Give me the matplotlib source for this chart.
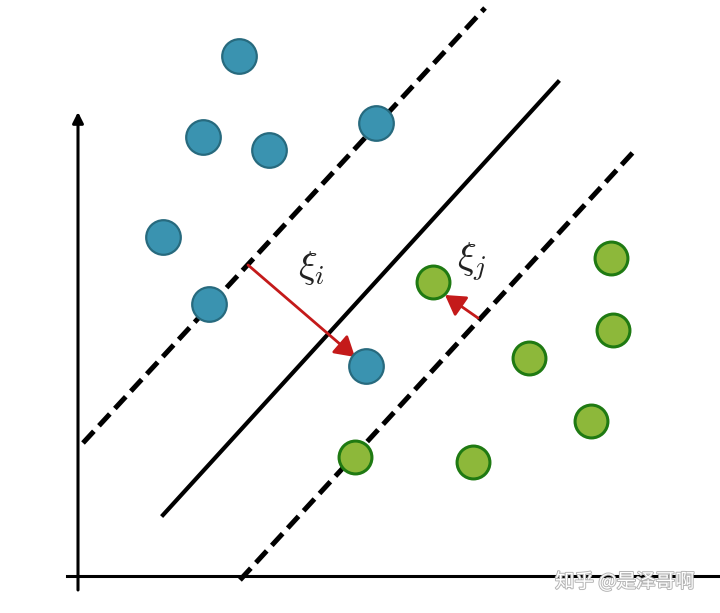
import matplotlib
matplotlib.use("Agg")
import matplotlib.pyplot as plt
import matplotlib.patheffects as pe

plt.rcParams["mathtext.fontset"] = "cm"

# Data (image-like coordinates, y grows downward)
blue_x = [239, 203, 269, 376, 163, 209, 366]
blue_y = [56, 137, 150, 123, 237, 304, 366]
green_x = [433, 611, 613, 529, 591, 355, 473]
green_y = [282, 258, 330, 358, 421, 457, 462]

upper_margin_x = [83, 485]
upper_margin_y = [443, 8]
hyperplane_x = [163, 558]
hyperplane_y = [515, 82]
lower_margin_x = [240, 637]
lower_margin_y = [580, 148]

xi_i_start = (248, 265)
xi_i_end = (355, 357)
xi_j_start = (478, 318)
xi_j_end = (445, 295)

fig = plt.figure(figsize=(7.2, 6.13), dpi=100)
ax = fig.add_axes([0, 0, 1, 1])
ax.set_xlim(0, 720)
ax.set_ylim(613, 0)
ax.axis("off")

# coordinate axes
ax.plot([67, 720], [576, 576], color="black", lw=2.2, zorder=1)
ax.annotate("", xy=(78, 112), xytext=(78, 590),
            arrowprops=dict(arrowstyle="-|>", color="black", lw=2.2,
                            mutation_scale=16, shrinkA=0, shrinkB=0), zorder=1)

# margins and hyperplane
dash = (3.2, 1.5)
ax.plot(upper_margin_x, upper_margin_y, color="black", lw=3.6,
        dashes=dash, zorder=2)
ax.plot(lower_margin_x, lower_margin_y, color="black", lw=3.6,
        dashes=dash, zorder=2)
ax.plot(hyperplane_x, hyperplane_y, color="black", lw=3.0, zorder=2)

# points
ax.scatter(blue_x, blue_y, s=620, color="#3a93b0", edgecolors="#276a7e",
           linewidths=1.6, zorder=4)
ax.scatter(green_x, green_y, s=560, color="#8db83a", edgecolors="#1f7a12",
           linewidths=2.2, zorder=4)

# slack arrows
arrow_kw = dict(arrowstyle="-|>,head_length=0.5,head_width=0.3", color="#c41a1a",
                lw=2.0, mutation_scale=24, shrinkA=0, shrinkB=0)
ax.annotate("", xy=xi_i_end, xytext=xi_i_start, arrowprops=arrow_kw, zorder=3)
ax.annotate("", xy=xi_j_end, xytext=xi_j_start, arrowprops=arrow_kw, zorder=3)

ax.text(312, 268, r"$\xi_i$", fontsize=28, ha="center", va="center", color="#222222")
ax.text(472, 262, r"$\xi_j$", fontsize=28, ha="center", va="center", color="#222222")

# watermark
ax.text(625, 582, "知乎 @是泽哥啊", fontsize=14, ha="center", va="center",
        color="white", family=["Noto Sans CJK SC", "DejaVu Sans"],
        path_effects=[pe.withStroke(linewidth=1.4, foreground="#b5b5b5")], zorder=5)

fig.savefig("out.png", dpi=100)
